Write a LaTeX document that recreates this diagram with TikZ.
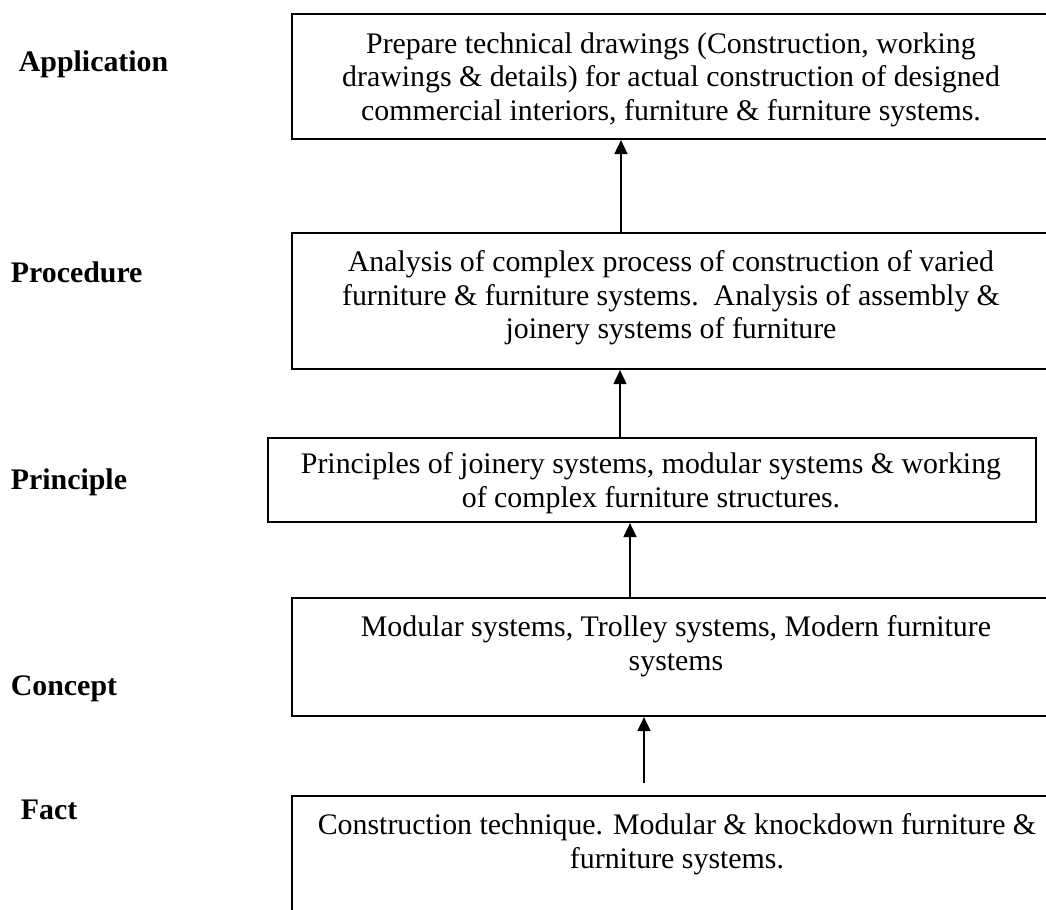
\documentclass[tikz,border=0pt]{standalone}
\usepackage{fontspec}
\setmainfont{Liberation Serif}
\usetikzlibrary{arrows.meta,calc}

\begin{document}
\begin{tikzpicture}[line width=1pt, x=0.02cm, y=-0.02cm,
    frame/.style={draw, line width=1.2pt, anchor=north west, inner sep=0pt},
    boxtext/.style={align=center, anchor=north, inner sep=0pt,
        font=\fontsize{17}{19}\selectfont},
    level/.style={anchor=west, inner sep=0pt, font=\fontsize{17}{20}\selectfont\bfseries},
    up/.style={-{Triangle[length=0.28cm, width=0.26cm]}}]
\useasboundingbox (0,0) rectangle (1046,910);

%\draw[help lines] (0,0) grid[step=1cm] (1046,910);

% frames (right sides run off the page)
\node[frame, minimum width=16.2cm, minimum height=2.5cm] (app) at (291,13) {};
\node[frame, minimum width=16.2cm, minimum height=2.72cm] (proc) at (291,232) {};
\node[frame, minimum width=15.36cm, minimum height=1.68cm] (prin) at (267,437) {};
\node[frame, minimum width=16.2cm, minimum height=2.36cm] (conc) at (291,597) {};
\node[frame, minimum width=16.2cm, minimum height=4.1cm] (fact) at (291,795) {};

% texts
\node[boxtext] (app-t) at (671,32) {Prepare technical drawings (Construction, working\\
    drawings \& details) for actual construction of designed\\
    commercial interiors, furniture \& furniture systems.};
\node[boxtext] (proc-t) at (671,250) {Analysis of complex process of construction of varied\\
    furniture \& furniture systems.\ \ Analysis of assembly \&\\
    joinery systems of furniture};
\node[boxtext] (prin-t) at (651,452) {Principles of joinery systems, modular systems \& working\\
    of complex furniture structures.};
\node[boxtext] (conc-t) at (676,615) {Modular systems, Trolley systems, Modern furniture\\
    systems};
\node[boxtext] (fact-t) at (677,813) {Construction technique. Modular \& knockdown furniture \&\\
    furniture systems.};

% levels
\foreach \nm/\x/\y/\lab in {app/18/64/Application, proc/10/272/Procedure,
    prin/10/482/Principle, conc/10/689/Concept, fact/20/810/Fact}
    \node[level] (l-\nm) at (\x,\y) {\lab};

% arrows
\draw[up] ($(proc.north west)+(330,0)$) -- ($(app.south west)+(330,0)$);
\draw[up] ($(prin.north west)+(353,0)$) -- ($(proc.south west)+(329,0)$);
\draw[up] ($(conc.north west)+(339,0)$) -- ($(prin.south west)+(363,0)$);
\draw[up] ($(fact.north west)+(353,-12)$) -- ($(conc.south west)+(353,0)$);
\end{tikzpicture}
\end{document}
